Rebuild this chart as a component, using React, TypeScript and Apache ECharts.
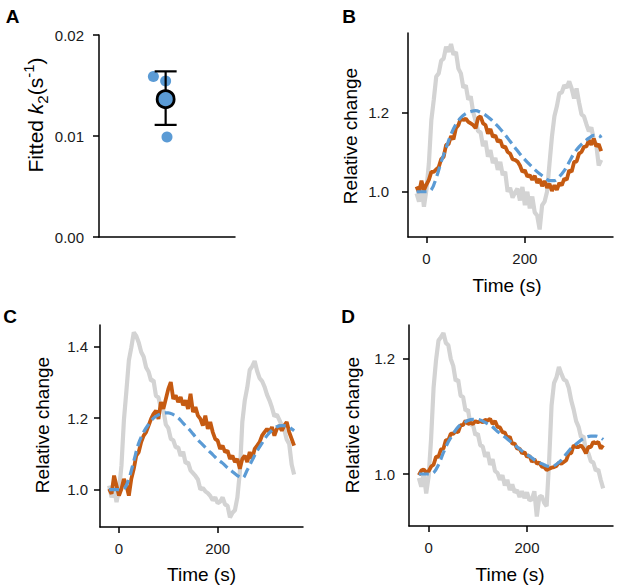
import React, { useEffect, useRef } from "react";
import * as echarts from "echarts";

const FONT = "'Liberation Sans', Arial, Helvetica, sans-serif";
const GRAY = "#d3d3d3";
const ORANGE = "#c55a11";
const BLUE = "#5b9bd5";

// ---------- Panel A ----------
const A_POINTS_X = [0.4, 0.49, 0.5];
const A_POINTS_Y = [0.0159, 0.01545, 0.0099];
const A_MEAN_X = 0.49;
const A_MEAN_Y = 0.01365;
const A_ERR_LOW = 0.0111;
const A_ERR_HIGH = 0.0164;
const A_Y_TICKS = [0, 0.01, 0.02];

// ---------- Time bases ----------
const T5 = [
  -20, -15, -10, -5, 0, 5, 10, 15, 20, 25, 30, 35, 40, 45, 50, 55, 60, 65, 70, 75,
  80, 85, 90, 95, 100, 105, 110, 115, 120, 125, 130, 135, 140, 145, 150, 155, 160,
  165, 170, 175, 180, 185, 190, 195, 200, 205, 210, 215, 220, 225, 230, 235, 240,
  245, 250, 255, 260, 265, 270, 275, 280, 285, 290, 295, 300, 305, 310, 315, 320,
  325, 330, 335, 340, 345, 350, 355,
];
const T_FIT = [
  -20, -10, 0, 10, 20, 30, 40, 50, 60, 70, 80, 90, 100, 110, 120, 130, 140, 150,
  160, 170, 180, 190, 200, 210, 220, 230, 240, 250, 260, 270, 280, 290, 300, 310,
  320, 330, 340, 350, 355,
];
const X_TICKS = [0, 200];

// ---------- Panel B ----------
const B_GRAY = [
  0.996, 0.975, 1.018, 0.962, 1.005, 1.071, 1.18, 1.232, 1.29, 1.298,
  1.33, 1.335, 1.365, 1.352, 1.372, 1.345, 1.352, 1.31, 1.298, 1.262,
  1.268, 1.232, 1.24, 1.2, 1.178, 1.152, 1.15, 1.115, 1.128, 1.088,
  1.105, 1.072, 1.085, 1.055, 1.075, 1.042, 1.05, 1.0, 1.01, 0.985,
  0.998, 1.008, 0.978, 1.012, 0.966, 1.0, 0.958, 0.988, 0.948, 0.94,
  0.905, 0.966, 0.975, 1.0, 1.071, 1.139, 1.19, 1.215, 1.248, 1.25,
  1.268, 1.262, 1.278, 1.26, 1.235, 1.26, 1.225, 1.195, 1.19, 1.17,
  1.152, 1.162, 1.132, 1.118, 1.066, 1.08,
];
const B_ORANGE = [
  1.013, 0.998, 1.028, 1.004, 1.018, 1.03, 1.05, 1.05, 1.056, 1.062,
  1.082, 1.088, 1.118, 1.12, 1.14, 1.132, 1.16, 1.168, 1.186, 1.18,
  1.184, 1.176, 1.172, 1.168, 1.16, 1.186, 1.19, 1.172, 1.168, 1.146,
  1.158, 1.138, 1.142, 1.126, 1.13, 1.112, 1.114, 1.1, 1.096, 1.082,
  1.08, 1.076, 1.066, 1.05, 1.054, 1.038, 1.042, 1.03, 1.04, 1.022,
  1.032, 1.014, 1.027, 1.01, 1.02, 1.002, 1.016, 1.005, 1.022, 1.016,
  1.033, 1.03, 1.054, 1.05, 1.075, 1.076, 1.096, 1.1, 1.113, 1.114,
  1.13, 1.118, 1.134, 1.114, 1.12, 1.102,
];
const B_FIT = [
  1.0, 1.0, 1.0, 1.005, 1.035, 1.075, 1.11, 1.145, 1.17, 1.187, 1.197, 1.202, 1.204,
  1.2, 1.193, 1.183, 1.171, 1.158, 1.143, 1.127, 1.111, 1.095, 1.081, 1.068, 1.056,
  1.045, 1.036, 1.028, 1.028, 1.038, 1.053, 1.075, 1.097, 1.113, 1.125, 1.135,
  1.142, 1.142, 1.136,
];
const B_Y_TICKS = [1.0, 1.2];

// ---------- Panel C ----------
const C_GRAY = [
  1.011, 0.978, 1.006, 0.965, 0.998, 1.067, 1.195, 1.276, 1.362, 1.398,
  1.44, 1.43, 1.412, 1.385, 1.372, 1.342, 1.33, 1.305, 1.306, 1.262,
  1.258, 1.228, 1.222, 1.182, 1.172, 1.142, 1.138, 1.118, 1.118, 1.094,
  1.106, 1.074, 1.076, 1.054, 1.046, 1.038, 1.028, 1.0, 1.004, 0.995,
  0.99, 0.982, 0.97, 0.978, 0.962, 0.966, 0.978, 0.958, 0.955, 0.922,
  0.935, 0.942, 0.978, 1.049, 1.189, 1.25, 1.286, 1.335, 1.345, 1.36,
  1.332, 1.312, 1.304, 1.288, 1.266, 1.25, 1.23, 1.205, 1.21, 1.195,
  1.18, 1.168, 1.14, 1.128, 1.07, 1.042,
];
const C_ORANGE = [
  1.002, 0.988, 1.039, 1.011, 0.983, 1.002, 1.03, 1.011, 0.983, 1.03, 1.058, 1.095,
  1.105, 1.133, 1.151, 1.161, 1.179, 1.198, 1.212, 1.221, 1.198, 1.245, 1.226, 1.254,
  1.282, 1.301, 1.254, 1.264, 1.245, 1.259, 1.236, 1.25, 1.226, 1.268, 1.217, 1.231,
  1.207, 1.198, 1.179, 1.207, 1.17, 1.189, 1.161, 1.142, 1.137, 1.114, 1.123, 1.105,
  1.109, 1.086, 1.095, 1.077, 1.086, 1.058, 1.086, 1.095, 1.077, 1.105, 1.086,
  1.114, 1.123, 1.133, 1.151, 1.161, 1.17, 1.161, 1.175, 1.151, 1.17, 1.179, 1.165,
  1.179, 1.189, 1.161, 1.142, 1.123,
];
const C_FIT = [
  1.0, 1.0, 1.0, 1.002, 1.03, 1.08, 1.13, 1.161, 1.183, 1.2, 1.209, 1.214, 1.215,
  1.21, 1.201, 1.186, 1.172, 1.156, 1.139, 1.125, 1.111, 1.098, 1.084, 1.074, 1.061,
  1.05, 1.039, 1.032, 1.055, 1.082, 1.108, 1.13, 1.151, 1.166, 1.176, 1.179, 1.178,
  1.17, 1.165,
];
const C_Y_TICKS = [1.0, 1.2, 1.4];

// ---------- Panel D ----------
const D_GRAY = [
  0.993, 0.978, 1.002, 0.966, 0.996, 1.062, 1.15, 1.198, 1.232, 1.238,
  1.245, 1.228, 1.224, 1.2, 1.188, 1.162, 1.164, 1.136, 1.134, 1.11,
  1.112, 1.086, 1.086, 1.068, 1.07, 1.05, 1.048, 1.03, 1.038, 1.016,
  1.026, 1.005, 1.002, 0.99, 0.998, 0.98, 0.99, 0.972, 0.982, 0.968,
  0.972, 0.96, 0.97, 0.958, 0.968, 0.954, 0.956, 0.97, 0.926, 0.96,
  0.962, 0.95, 0.944, 1.021, 1.119, 1.158, 1.168, 1.186, 1.174, 1.164,
  1.162, 1.15, 1.128, 1.112, 1.092, 1.082, 1.064, 1.066, 1.04, 1.036,
  1.022, 1.02, 1.006, 1.008, 0.99, 0.975,
];
const D_ORANGE = [
  0.998, 1.006, 1.008, 1.003, 1.005, 1.013, 1.016, 1.03, 1.03, 1.043,
  1.044, 1.059, 1.059, 1.07, 1.07, 1.074, 1.073, 1.085, 1.085, 1.093,
  1.087, 1.089, 1.087, 1.092, 1.09, 1.092, 1.09, 1.094, 1.093, 1.096,
  1.087, 1.092, 1.082, 1.081, 1.073, 1.072, 1.062, 1.065, 1.053, 1.053,
  1.044, 1.044, 1.036, 1.038, 1.03, 1.032, 1.021, 1.026, 1.018, 1.02,
  1.013, 1.012, 1.007, 1.009, 1.011, 1.012, 1.014, 1.02, 1.018, 1.021,
  1.024, 1.036, 1.036, 1.05, 1.047, 1.047, 1.05, 1.044, 1.036, 1.047,
  1.047, 1.056, 1.053, 1.056, 1.044, 1.05,
];
const D_FIT = [
  1.0, 1.0, 1.0, 1.002, 1.016, 1.037, 1.056, 1.07, 1.082, 1.088, 1.093, 1.095, 1.095,
  1.092, 1.087, 1.082, 1.074, 1.068, 1.061, 1.054, 1.047, 1.04, 1.034, 1.028, 1.022,
  1.018, 1.014, 1.013, 1.017, 1.024, 1.035, 1.045, 1.052, 1.059, 1.064, 1.066,
  1.066, 1.063, 1.06,
];
const D_Y_TICKS = [1.0, 1.2];

const pair = (xs: number[], ys: number[]) => xs.map((x, i) => [x, ys[i]]);

const axisLineStyle = { show: true, onZero: false, lineStyle: { color: "#000", width: 1.5 } };
const tickStyle = (vals: number[]) => ({
  show: true,
  length: 6,
  customValues: vals,
  lineStyle: { color: "#000", width: 1.5 },
});
const labelStyle = (vals: number[], margin: number, fmt: (v: number) => string) => ({
  show: true,
  customValues: vals,
  margin,
  fontSize: 15,
  fontFamily: FONT,
  color: "#1a1a1a",
  formatter: fmt,
});

function timeAxis(gridIndex: number, min: number, max: number) {
  return {
    type: "value",
    gridIndex,
    min,
    max,
    axisLine: axisLineStyle,
    axisTick: tickStyle(X_TICKS),
    axisLabel: labelStyle(X_TICKS, 14, (v: number) => String(Math.round(v))),
    splitLine: { show: false },
  };
}
function relAxis(gridIndex: number, min: number, max: number, ticks: number[], margin: number) {
  return {
    type: "value",
    gridIndex,
    min,
    max,
    axisLine: axisLineStyle,
    axisTick: tickStyle(ticks),
    axisLabel: labelStyle(ticks, margin, (v: number) => v.toFixed(1)),
    splitLine: { show: false },
  };
}

function traceSeries(idx: number, gray: number[], orange: number[], fit: number[]) {
  return [
    {
      type: "line",
      xAxisIndex: idx,
      yAxisIndex: idx,
      data: pair(T5, gray),
      showSymbol: false,
      symbol: "none",
      lineStyle: { color: GRAY, width: 4.2 },
      z: 2,
    },
    {
      type: "line",
      xAxisIndex: idx,
      yAxisIndex: idx,
      data: pair(T5, orange),
      showSymbol: false,
      symbol: "none",
      lineStyle: { color: ORANGE, width: 3.8 },
      z: 3,
    },
    {
      type: "line",
      xAxisIndex: idx,
      yAxisIndex: idx,
      data: pair(T_FIT, fit),
      showSymbol: false,
      symbol: "none",
      smooth: 0.35,
      lineStyle: { color: BLUE, width: 3.2, type: [10, 5] },
      z: 4,
    },
  ];
}

const textEl = (x: number, y: number, text: string, size: number, bold = false, rot = 0) => ({
  type: "text",
  x,
  y,
  rotation: rot,
  style: {
    text,
    fontSize: size,
    fontWeight: bold ? "bold" : "normal",
    fontFamily: FONT,
    fill: "#000",
    align: "center",
    verticalAlign: "middle",
  },
});

export default function App() {
  const ref = useRef<HTMLDivElement>(null);
  useEffect(() => {
    if (!ref.current) return;
    const chart = echarts.init(ref.current, undefined, { renderer: "svg" });
    const option: any = {
      animation: false,
      backgroundColor: "#fff",
      grid: [
        { left: 99, top: 35, width: 136, height: 202 },
        { left: 408, top: 33, width: 205, height: 204 },
        { left: 100, top: 325, width: 203, height: 202 },
        { left: 409, top: 325, width: 204, height: 201 },
      ],
      xAxis: [
        {
          type: "value",
          gridIndex: 0,
          min: 0,
          max: 1,
          axisLine: axisLineStyle,
          axisTick: { show: false },
          axisLabel: { show: false },
          splitLine: { show: false },
        },
        timeAxis(1, -37.4, 379),
        timeAxis(2, -38.5, 373),
        timeAxis(3, -40, 375),
      ],
      yAxis: [
        {
          type: "value",
          gridIndex: 0,
          min: 0,
          max: 0.02,
          axisLine: axisLineStyle,
          axisTick: tickStyle(A_Y_TICKS),
          axisLabel: labelStyle(A_Y_TICKS, 15, (v: number) => v.toFixed(2)),
          splitLine: { show: false },
        },
        relAxis(1, 0.886, 1.3997, B_Y_TICKS, 19),
        relAxis(2, 0.8951, 1.4609, C_Y_TICKS, 12),
        relAxis(3, 0.9096, 1.2591, D_Y_TICKS, 14),
      ],
      series: [
        {
          type: "scatter",
          xAxisIndex: 0,
          yAxisIndex: 0,
          data: pair(A_POINTS_X, A_POINTS_Y),
          symbolSize: 11,
          itemStyle: { color: BLUE, opacity: 1 },
          z: 2,
        },
        {
          type: "custom",
          xAxisIndex: 0,
          yAxisIndex: 0,
          data: [[A_MEAN_X, A_ERR_LOW, A_ERR_HIGH]],
          encode: { x: 0, y: [1, 2] },
          z: 3,
          renderItem: (_params: any, api: any) => {
            const x = api.value(0);
            const lo = api.coord([x, api.value(1)]);
            const hi = api.coord([x, api.value(2)]);
            const hw = 11;
            const st = { stroke: "#000", lineWidth: 2.2 };
            return {
              type: "group",
              children: [
                { type: "line", shape: { x1: lo[0], y1: lo[1], x2: hi[0], y2: hi[1] }, style: st },
                { type: "line", shape: { x1: hi[0] - hw, y1: hi[1], x2: hi[0] + hw, y2: hi[1] }, style: st },
                { type: "line", shape: { x1: lo[0] - hw, y1: lo[1], x2: lo[0] + hw, y2: lo[1] }, style: st },
              ],
            };
          },
        },
        {
          type: "scatter",
          xAxisIndex: 0,
          yAxisIndex: 0,
          data: [[A_MEAN_X, A_MEAN_Y]],
          symbolSize: 17,
          itemStyle: { color: BLUE, borderColor: "#000", borderWidth: 2.8, opacity: 1 },
          z: 4,
        },
        ...traceSeries(1, B_GRAY, B_ORANGE, B_FIT),
        ...traceSeries(2, C_GRAY, C_ORANGE, C_FIT),
        ...traceSeries(3, D_GRAY, D_ORANGE, D_FIT),
      ],
      graphic: [
        textEl(12.5, 16, "A", 19, true),
        textEl(349, 16, "B", 19, true),
        textEl(10, 316, "C", 19, true),
        textEl(348, 316, "D", 19, true),
        {
          type: "text",
          x: 35,
          y: 115,
          rotation: Math.PI / 2,
          style: {
            text: "{n|Fitted }{i|k}{sub|2}{n|(s}{sup|-1}{n|)}",
            fontFamily: FONT,
            fill: "#000",
            align: "center",
            verticalAlign: "middle",
            rich: {
              n: { fontSize: 21, fontFamily: FONT, lineHeight: 29, verticalAlign: "middle", fill: "#000" },
              i: { fontSize: 21, fontFamily: FONT, fontStyle: "italic", lineHeight: 29, verticalAlign: "middle", fill: "#000" },
              sub: { fontSize: 15, fontFamily: FONT, lineHeight: 15, verticalAlign: "bottom", fill: "#000" },
              sup: { fontSize: 15, fontFamily: FONT, lineHeight: 15, verticalAlign: "top", fill: "#000" },
            },
          },
        },
        textEl(350.5, 136, "Relative change", 19, false, Math.PI / 2),
        textEl(42.5, 425, "Relative change", 19, false, Math.PI / 2),
        textEl(352, 425, "Relative change", 19, false, Math.PI / 2),
        textEl(507, 285, "Time (s)", 19),
        textEl(201.5, 574, "Time (s)", 19),
        textEl(510, 574, "Time (s)", 19),
      ],
    };
    chart.setOption(option);
    return () => chart.dispose();
  }, []);
  return (
    <div
      ref={ref}
      style={{ position: "fixed", left: 0, top: 0, width: 617, height: 585, background: "#fff" }}
    />
  );
}
